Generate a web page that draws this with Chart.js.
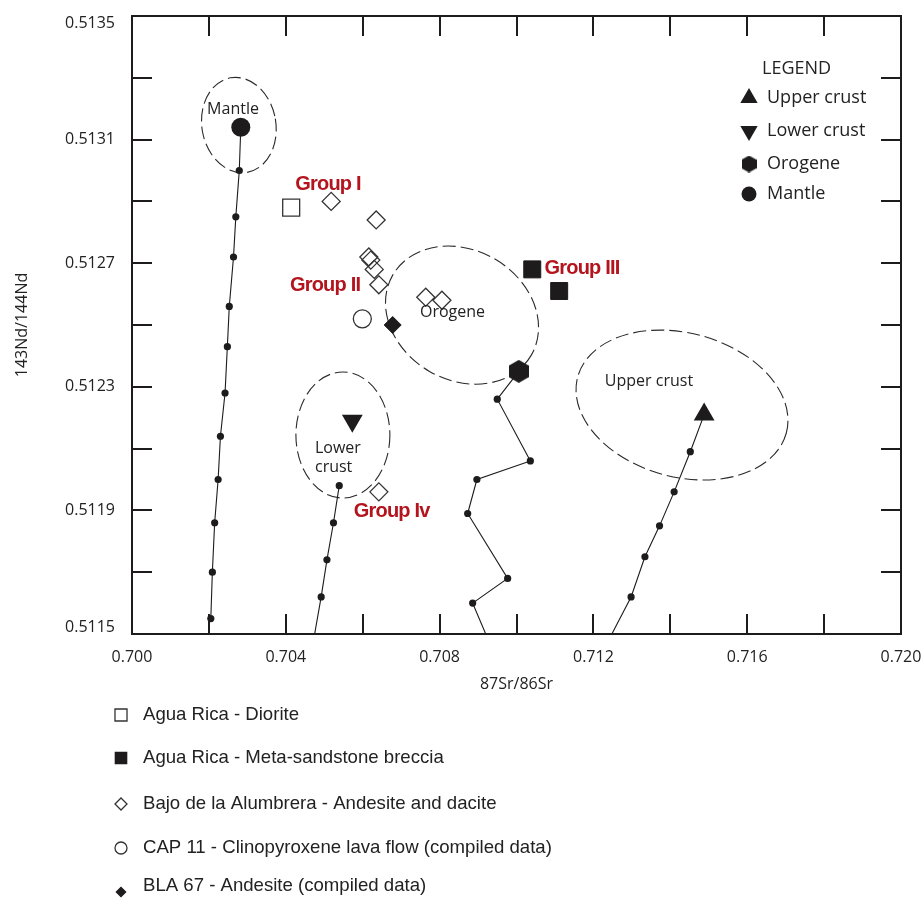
<!DOCTYPE html>
<html><head><meta charset="utf-8">
<script src="https://cdn.jsdelivr.net/npm/chart.js@4/dist/chart.umd.min.js"></script>
<style>html,body{margin:0;padding:0;background:#fff}#wrap{width:922px;height:899px;position:relative}</style>
</head><body><div id="wrap"><canvas id="c" width="922" height="899"></canvas></div>
<script>
// ---------- data ----------
const srTickLabels = ['0.700','0.704','0.708','0.712','0.716','0.720'];
const ndTickLabels = ['0.5115','0.5119','0.5123','0.5127','0.5131','0.5135'];

const sampleNames = ['Agua Rica - Diorite','Agua Rica - Meta-sandstone breccia','Bajo de la Alumbrera - Andesite and dacite','CAP 11 - Clinopyroxene lava flow (compiled data)','BLA 67 - Andesite (compiled data)'];
const dioriteSr = [0.70414];
const dioriteNd = [0.51288];
const brecciaSr = [0.71041, 0.71111];
const brecciaNd = [0.51268, 0.51261];
const alumbreraSr = [0.70518, 0.70635, 0.70616, 0.70621, 0.70630, 0.70642, 0.70764, 0.70806, 0.70642];
const alumbreraNd = [0.51290, 0.51284, 0.51272, 0.51271, 0.51268, 0.51263, 0.51259, 0.51258, 0.51196];
const cap11Sr = [0.70599];
const cap11Nd = [0.51252];
const bla67Sr = [0.70678];
const bla67Nd = [0.51250];

const reservoirNames = ['Upper crust','Lower crust','Orogene','Mantle'];
const reservoirSr = [0.71488, 0.70573, 0.71006, 0.70283];
const reservoirNd = [0.51221, 0.51219, 0.51235, 0.51314];

const mantleTrendSr = [0.70279,0.70270,0.70264,0.70253,0.70248,0.70242,0.70230,0.70224,0.70215,0.70209,0.70205];
const mantleTrendNd = [0.51300,0.51285,0.51272,0.51256,0.51243,0.51228,0.51214,0.51200,0.51186,0.51170,0.51155];
const lowerTrendSr = [0.70539,0.70524,0.70507,0.70492];
const lowerTrendNd = [0.51198,0.51186,0.51174,0.51162];
const lowerTrendAxisSr = 0.70475;
const orogeneTrendSr = [0.70950,0.71036,0.70897,0.70873,0.70977,0.70886];
const orogeneTrendNd = [0.51226,0.51206,0.51200,0.51189,0.51168,0.51160];
const orogeneTrendAxisSr = 0.70920;
const upperTrendSr = [0.71452,0.71410,0.71372,0.71334,0.71298];
const upperTrendNd = [0.51209,0.51196,0.51185,0.51175,0.51162];
const upperTrendAxisSr = 0.71248;

const fieldNames = ['Mantle','Lower crust','Orogene','Upper crust'];
const fieldCenterSr = [0.70278, 0.705485, 0.708583, 0.714304];
const fieldCenterNd = [0.513147, 0.512144, 0.512532, 0.512241];
const fieldRadiusSr = [0.000962, 0.001222, 0.002081, 0.002809];
const fieldRadiusNd = [0.0001553, 0.000204, 0.0002104, 0.000233];
const fieldTiltDeg = [-10, 0, 30, 15];
const fieldLabels = ['Mantle','Lower\ncrust','Orogene','Upper crust'];
const fieldLabelSr = [0.702627, 0.704759, 0.708336, 0.713446];
const fieldLabelNd = [0.513199, 0.512100, 0.512542, 0.512317];

const groupNames = ['Group I','Group II','Group III','Group Iv'];
const groupSr = [0.705098, 0.705020, 0.711704, 0.706754];
const groupNd = [0.512956, 0.512628, 0.512684, 0.511898];

// ---------- helpers ----------
const pts = (xs, ys) => xs.map((x, i) => ({x, y: ys[i]}));
const INK = '#1d1b1c';
function hexCanvas(w, h) {
  const c = document.createElement('canvas');
  c.width = w; c.height = h;
  const g = c.getContext('2d');
  g.fillStyle = INK;
  g.beginPath();
  for (let i = 0; i < 6; i++) {
    const a = Math.PI / 3 * i - Math.PI / 2;
    const px = w / 2 + (w / 2) * Math.cos(a) / 0.866, py = h / 2 + (h / 2) * Math.sin(a);
    const cx = Math.max(0, Math.min(w, px));
    i ? g.lineTo(cx, py) : g.moveTo(cx, py);
  }
  g.closePath(); g.fill();
  return c;
}
const hexBig = hexCanvas(20, 23);
const hexSmall = hexCanvas(15, 17);

const resPt = i => ({x: reservoirSr[i], y: reservoirNd[i]});
const mantlePath = [resPt(3), ...pts(mantleTrendSr, mantleTrendNd)];
const lowerPath = [...pts(lowerTrendSr, lowerTrendNd), {x: lowerTrendAxisSr, y: 0.5115}];
const orogenePath = [resPt(2), ...pts(orogeneTrendSr, orogeneTrendNd), {x: orogeneTrendAxisSr, y: 0.5115}];
const upperPath = [resPt(0), ...pts(upperTrendSr, upperTrendNd), {x: upperTrendAxisSr, y: 0.5115}];

const pathDs = (label, data) => ({label, data, showLine: true, borderColor: INK, borderWidth: 1.1, pointRadius: 0, fill: false, order: 20, tension: 0});
const dotDs = (label, data) => ({label, data, pointRadius: 3.6, pointBackgroundColor: INK, pointBorderColor: INK, pointBorderWidth: 0, showLine: false, order: 15});

const sampleStyles = [
  {pointStyle: 'rect', pointRadius: 12, pointBackgroundColor: 'rgba(255,255,255,0)', pointBorderColor: '#333', pointBorderWidth: 1.3, legendRadius: 8.5},
  {pointStyle: 'rect', pointRadius: 12, pointBackgroundColor: INK, pointBorderColor: INK, pointBorderWidth: 1, legendRadius: 8},
  {pointStyle: 'rectRot', pointRadius: 9, pointBackgroundColor: 'rgba(255,255,255,0)', pointBorderColor: '#333', pointBorderWidth: 1.3, legendRadius: 6},
  {pointStyle: 'circle', pointRadius: 9, pointBackgroundColor: 'rgba(255,255,255,0)', pointBorderColor: '#333', pointBorderWidth: 1.3, legendRadius: 6},
  {pointStyle: 'rectRot', pointRadius: 8.5, pointBackgroundColor: INK, pointBorderColor: INK, pointBorderWidth: 1, legendRadius: 4.6}
];
const sampleData = [pts(dioriteSr, dioriteNd), pts(brecciaSr, brecciaNd), pts(alumbreraSr, alumbreraNd), pts(cap11Sr, cap11Nd), pts(bla67Sr, bla67Nd)];
const sampleDatasets = sampleNames.map((n, i) => Object.assign({label: n, data: sampleData[i], showLine: false, order: 5}, sampleStyles[i]));

const resStyles = [
  {pointStyle: 'triangle', pointRadius: 12, pointRotation: 0, legendRadius: 10},
  {pointStyle: 'triangle', pointRadius: 12, pointRotation: 180, legendRadius: 10},
  {pointStyle: hexBig, pointRadius: 11, pointRotation: 0, legendStyle: hexSmall, legendRadius: 8},
  {pointStyle: 'circle', pointRadius: 9.5, pointRotation: 0, legendRadius: 7.5}
];
const resDatasets = reservoirNames.map((n, i) => Object.assign({label: n, data: [resPt(i)], showLine: false, order: 1,
  pointBackgroundColor: INK, pointBorderColor: INK, pointBorderWidth: 0}, resStyles[i]));

// ---------- custom drawing ----------
const decor = {
  id: 'decor',
  beforeDatasetsDraw(chart) {
    const {ctx, scales: {x, y}} = chart;
    ctx.save();
    ctx.strokeStyle = '#2a2a2a';
    ctx.lineWidth = 1.1;
    ctx.setLineDash([13, 5]);
    fieldNames.forEach((n, i) => {
      const cx = x.getPixelForValue(fieldCenterSr[i]);
      const cy = y.getPixelForValue(fieldCenterNd[i]);
      const rx = Math.abs(x.getPixelForValue(fieldCenterSr[i] + fieldRadiusSr[i]) - cx);
      const ry = Math.abs(y.getPixelForValue(fieldCenterNd[i] + fieldRadiusNd[i]) - cy);
      ctx.beginPath();
      ctx.ellipse(cx, cy, rx, ry, fieldTiltDeg[i] * Math.PI / 180, 0, Math.PI * 2);
      ctx.stroke();
    });
    ctx.restore();
  },
  afterDatasetsDraw(chart) {
    const {ctx, scales: {x, y}, chartArea: a} = chart;
    ctx.save();
    // field labels
    ctx.fillStyle = '#222';
    ctx.font = '16px "Open Sans", sans-serif';
    ctx.textBaseline = 'middle';
    fieldLabels.forEach((t, i) => {
      const lines = t.split('\n');
      const px = x.getPixelForValue(fieldLabelSr[i]);
      const py = y.getPixelForValue(fieldLabelNd[i]);
      ctx.textAlign = lines.length > 1 ? 'left' : 'center';
      lines.forEach((l, k) => ctx.fillText(l, px, py + k * 19));
    });
    // group labels
    ctx.fillStyle = '#b3141d';
    ctx.font = 'bold 20px "Liberation Sans", Arial, sans-serif';
    ctx.letterSpacing = '-0.8px';
    ctx.textAlign = 'center';
    groupNames.forEach((t, i) => ctx.fillText(t, x.getPixelForValue(groupSr[i]), y.getPixelForValue(groupNd[i])));
    ctx.letterSpacing = '0px';
    // frame
    ctx.strokeStyle = INK;
    ctx.lineWidth = 2;
    ctx.setLineDash([]);
    ctx.strokeRect(a.left, a.top, a.right - a.left, a.bottom - a.top);
    // inward ticks on all four sides
    const TL = 20;
    ctx.beginPath();
    x.ticks.forEach((t, i) => {
      const px = Math.round(x.getPixelForTick(i));
      if (px <= a.left + 2 || px >= a.right - 2) return;
      ctx.moveTo(px, a.bottom); ctx.lineTo(px, a.bottom - TL);
      ctx.moveTo(px, a.top); ctx.lineTo(px, a.top + TL);
    });
    y.ticks.forEach((t, i) => {
      const py = Math.round(y.getPixelForTick(i));
      if (py <= a.top + 2 || py >= a.bottom - 2) return;
      ctx.moveTo(a.left, py); ctx.lineTo(a.left + TL, py);
      ctx.moveTo(a.right, py); ctx.lineTo(a.right - TL, py);
    });
    ctx.stroke();
    // y tick labels (end labels pulled inside like the original)
    ctx.fillStyle = '#222';
    ctx.font = '16px "Open Sans", sans-serif';
    ctx.textAlign = 'right';
    ctx.textBaseline = 'middle';
    y.ticks.forEach((t, i) => {
      const s = t.value.toFixed(4);
      if (!ndTickLabels.includes(s)) return;
      const py = Math.min(a.bottom - 7, Math.max(a.top + 7, y.getPixelForTick(i)));
      ctx.fillText(s, a.left - 17, py);
    });
    // in-plot legend
    ctx.font = '18px "Open Sans", sans-serif';
    ctx.textAlign = 'left';
    ctx.fillText('LEGEND', a.right - 139, a.top + 53);
    const legY = [82, 115, 148, 178];
    reservoirNames.forEach((n, i) => {
      const st = resStyles[i];
      const yy = a.top + legY[i];
      ctx.fillStyle = INK; ctx.strokeStyle = INK;
      Chart.helpers.drawPoint(ctx, {pointStyle: st.legendStyle || st.pointStyle, radius: st.legendRadius, rotation: st.pointRotation, borderWidth: 0}, a.right - 152, yy);
      ctx.fillStyle = '#222';
      ctx.fillText(n, a.right - 134, yy);
    });
    // bottom legend
    ctx.font = '18.6px "Liberation Sans", Arial, sans-serif';
    const rowY = [715, 758, 804, 848, 886];
    sampleNames.forEach((n, i) => {
      const st = sampleStyles[i];
      ctx.fillStyle = st.pointBackgroundColor; ctx.strokeStyle = st.pointBorderColor; ctx.lineWidth = 1.3;
      Chart.helpers.drawPoint(ctx, {pointStyle: st.pointStyle, radius: st.legendRadius, rotation: 0, borderWidth: 1.3}, 121, rowY[i] + (i === 4 ? 6 : 0));
      ctx.fillStyle = '#222';
      ctx.fillText(n, 143, rowY[i]);
    });
    ctx.restore();
  }
};

const axisFont = {family: '"Open Sans", sans-serif', size: 16};
new Chart(document.getElementById('c'), {
  type: 'scatter',
  data: {
    datasets: [
      ...resDatasets,
      ...sampleDatasets,
      dotDs('Mantle trend', pts(mantleTrendSr, mantleTrendNd)),
      dotDs('Lower crust trend', pts(lowerTrendSr, lowerTrendNd)),
      dotDs('Orogene trend', pts(orogeneTrendSr, orogeneTrendNd)),
      dotDs('Upper crust trend', pts(upperTrendSr, upperTrendNd)),
      pathDs('Mantle path', mantlePath),
      pathDs('Lower crust path', lowerPath),
      pathDs('Orogene path', orogenePath),
      pathDs('Upper crust path', upperPath)
    ]
  },
  options: {
    responsive: false,
    animation: false,
    devicePixelRatio: 1,
    layout: {padding: {left: 0, top: 16, right: 21, bottom: 195}},
    plugins: {legend: {display: false}, tooltip: {enabled: false}},
    scales: {
      x: {
        type: 'linear', min: 0.700, max: 0.720,
        grid: {display: false, drawTicks: false},
        border: {display: false},
        ticks: {stepSize: 0.002, autoSkip: false, maxRotation: 0, padding: 14, color: '#222', font: axisFont,
          callback: v => { const s = v.toFixed(3); return srTickLabels.includes(s) ? s : ''; }},
        title: {display: true, text: '87Sr/86Sr', color: '#222', font: axisFont, padding: {top: 0, bottom: 10}},
        afterFit(s) { s.height = 70; s.paddingLeft = 0; s.paddingRight = 0; }
      },
      y: {
        type: 'linear', min: 0.5115, max: 0.5135,
        grid: {display: false, drawTicks: false},
        border: {display: false},
        ticks: {display: false, stepSize: 0.0002, autoSkip: false},
        title: {display: true, text: '143Nd/144Nd', color: '#222', font: axisFont, padding: {top: 13, bottom: 0}},
        afterFit(s) { s.width = 132; s.paddingTop = 0; s.paddingBottom = 0; }
      }
    }
  },
  plugins: [decor]
});
</script>
</body></html>
